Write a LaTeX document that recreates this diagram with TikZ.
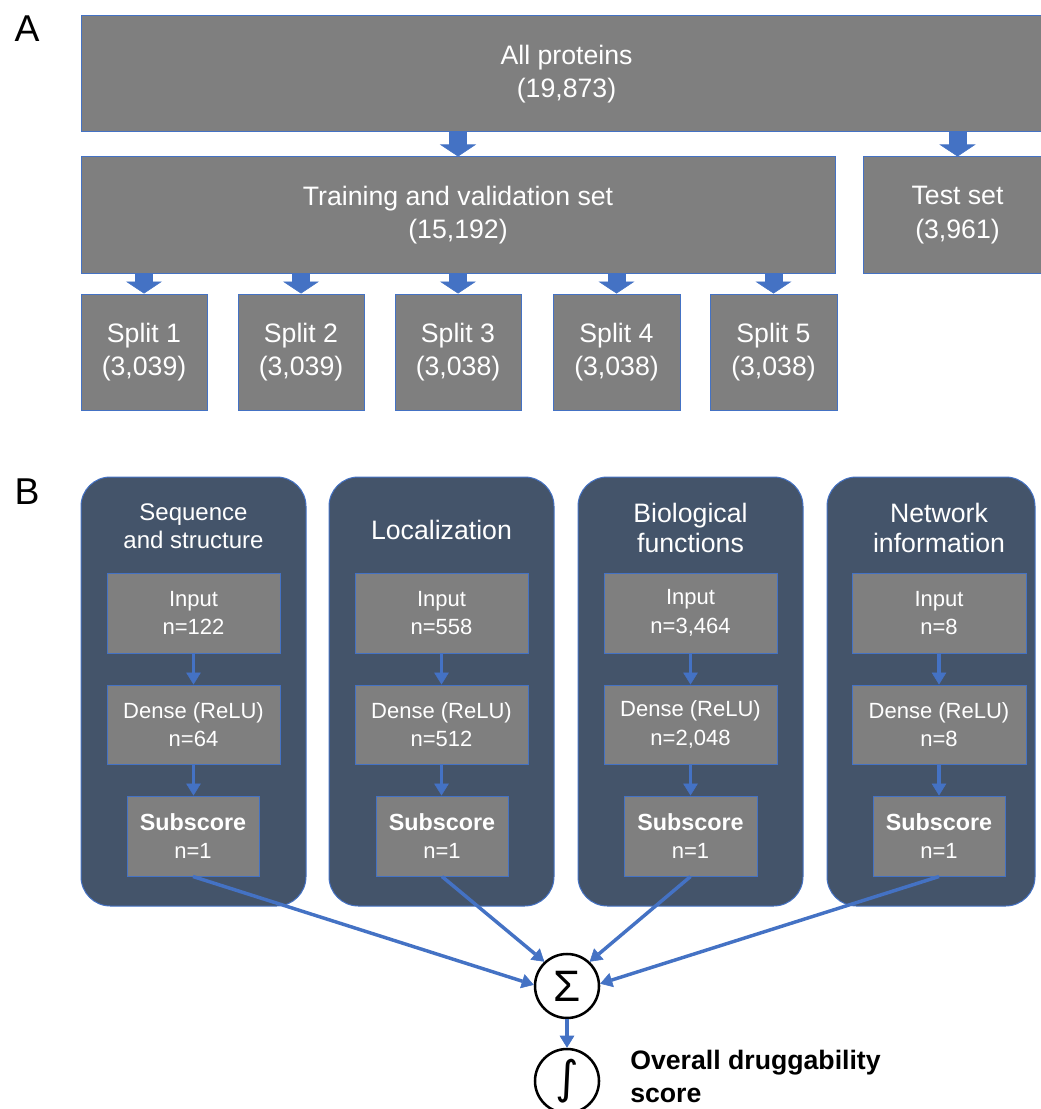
\documentclass[tikz,border=0pt]{standalone}
\usepackage{fontspec}
\setmainfont{Liberation Sans}
\newfontfamily\djv{DejaVu Sans}
\usetikzlibrary{arrows.meta}
\definecolor{boxgray}{HTML}{7F7F7F}
\definecolor{edgeblue}{HTML}{4472C4}
\definecolor{slate}{HTML}{44546A}
% style, name, x1, y1, x2, y2, text  (pixel coordinates)
\newcommand\pxbox[7]{\node[#1, minimum width={(#5-#3)*0.75pt}, minimum height={(#6-#4)*0.75pt}] (#2) at ({(#3+#5)/2},{(#4+#6)/2}) {#7};}
\begin{document}
\begin{tikzpicture}[x=0.75pt,y=-0.75pt,
  graybox/.style={rectangle, draw=edgeblue, line width=0.75pt, fill=boxgray, text=white, align=center, inner sep=0pt},
  container/.style={rectangle, draw=edgeblue, line width=0.75pt, fill=slate, rounded corners=22pt, inner sep=0pt},
  bigtxt/.style={font=\fontsize{20}{25}\selectfont},
  smalltxt/.style={font=\fontsize{16.5}{21.5}\selectfont},
  titletxt/.style={text=white, align=center, inner sep=0pt, font=\fontsize{20}{22.5}\selectfont},
  paneltxt/.style={inner sep=0pt, font=\fontsize{28}{28}\selectfont},
  blockarr/.style={draw=edgeblue, line width=13.5pt, -{Triangle[length=9pt,width=27pt,line width=0.4pt]}},
  thinarr/.style={draw=edgeblue, line width=2.6pt, -{Triangle[length=9pt,width=11pt,line width=0.4pt]}},
  circ/.style={circle, draw=black, line width=1.9pt, fill=white, minimum size=48pt, inner sep=0pt}
]
\useasboundingbox (0,0) rectangle (1041,1109);

% ---------------- Panel A ----------------
\node[paneltxt] (labA) at (27,29) {A};
\pxbox{graybox,bigtxt}{all}{81}{16}{1052}{132}{All proteins\\(19,873)}
\pxbox{graybox,bigtxt}{train}{81}{157}{835}{273}{Training and validation set\\(15,192)}
\pxbox{graybox,bigtxt}{test}{863}{157}{1052}{273}{Test set\\(3,961)}
\pxbox{graybox,bigtxt}{s1}{81}{294}{207}{410}{Split 1\\(3,039)}
\pxbox{graybox,bigtxt}{s2}{238}{294}{364}{410}{Split 2\\(3,039)}
\pxbox{graybox,bigtxt}{s3}{395}{294}{521}{410}{Split 3\\(3,038)}
\pxbox{graybox,bigtxt}{s4}{553}{294}{680}{410}{Split 4\\(3,038)}
\pxbox{graybox,bigtxt}{s5}{710}{294}{837}{410}{Split 5\\(3,038)}

\draw[blockarr] (all.south -| train.north) -- (train.north);
\draw[blockarr] (all.south -| test.north) -- (test.north);
\foreach \s in {s1,s2,s3,s4,s5}{
  \draw[blockarr] (train.south -| \s.north) -- (\s.north);
}

% ---------------- Panel B ----------------
\node[paneltxt] (labB) at (27,492) {B};
\pxbox{container}{c1}{81}{477}{306}{906}{}
\pxbox{container}{c2}{329}{477}{554}{906}{}
\pxbox{container}{c3}{578}{477}{803}{906}{}
\pxbox{container}{c4}{827}{477}{1035}{906}{}

\node[titletxt, font=\fontsize{18}{21}\selectfont] (t1) at (193.5,526) {Sequence\\and structure};
\node[titletxt] (t2) at (441.5,530) {Localization};
\node[titletxt] (t3) at (690.5,528) {Biological\\functions};
\node[titletxt] (t4) at (939,528) {Network\\information};

\pxbox{graybox,smalltxt}{in1}{107}{573}{280}{653}{Input\\n=122}
\pxbox{graybox,smalltxt}{de1}{107}{685}{280}{764}{Dense (ReLU)\\n=64}
\pxbox{graybox,smalltxt}{su1}{127}{796}{259}{876}{{\fontsize{17.5}{21.5}\selectfont\bfseries Subscore}\\n=1}

\pxbox{graybox,smalltxt}{in2}{355}{573}{528}{653}{Input\\n=558}
\pxbox{graybox,smalltxt}{de2}{355}{685}{528}{764}{Dense (ReLU)\\n=512}
\pxbox{graybox,smalltxt}{su2}{376}{796}{508}{876}{{\fontsize{17.5}{21.5}\selectfont\bfseries Subscore}\\n=1}

\pxbox{graybox,smalltxt}{in3}{604}{573}{777}{653}{Input\\n=3,464}
\pxbox{graybox,smalltxt}{de3}{604}{685}{777}{764}{Dense (ReLU)\\n=2,048}
\pxbox{graybox,smalltxt}{su3}{624}{796}{757}{876}{{\fontsize{17.5}{21.5}\selectfont\bfseries Subscore}\\n=1}

\pxbox{graybox,smalltxt}{in4}{852}{573}{1026}{653}{Input\\n=8}
\pxbox{graybox,smalltxt}{de4}{852}{685}{1026}{764}{Dense (ReLU)\\n=8}
\pxbox{graybox,smalltxt}{su4}{873}{796}{1005}{876}{{\fontsize{17.5}{21.5}\selectfont\bfseries Subscore}\\n=1}

\foreach \i in {1,2,3,4}{
  \draw[thinarr] (in\i.south) -- (de\i.north);
  \draw[thinarr] (de\i.south) -- (de\i.south |- su\i.north);
}

\node[circ] (sigma) at (567,986) {\fontsize{33}{33}\selectfont Σ};
\node[circ] (integ) at (567,1081) {\djv\fontsize{34}{34}\selectfont ∫};

\draw[thinarr] (su1.south) -- (sigma.178);
\draw[thinarr] (su2.south) -- (sigma.133);
\draw[thinarr] (su3.south) -- (sigma.47);
\draw[thinarr] (su4.south) -- (sigma.4);
\draw[thinarr] (sigma.south) -- (integ.north);

\node[anchor=north west, align=left, inner sep=0pt, font=\fontsize{20}{25}\selectfont\bfseries] (overall) at (630,1050) {Overall druggability\\score};
\end{tikzpicture}
\end{document}
